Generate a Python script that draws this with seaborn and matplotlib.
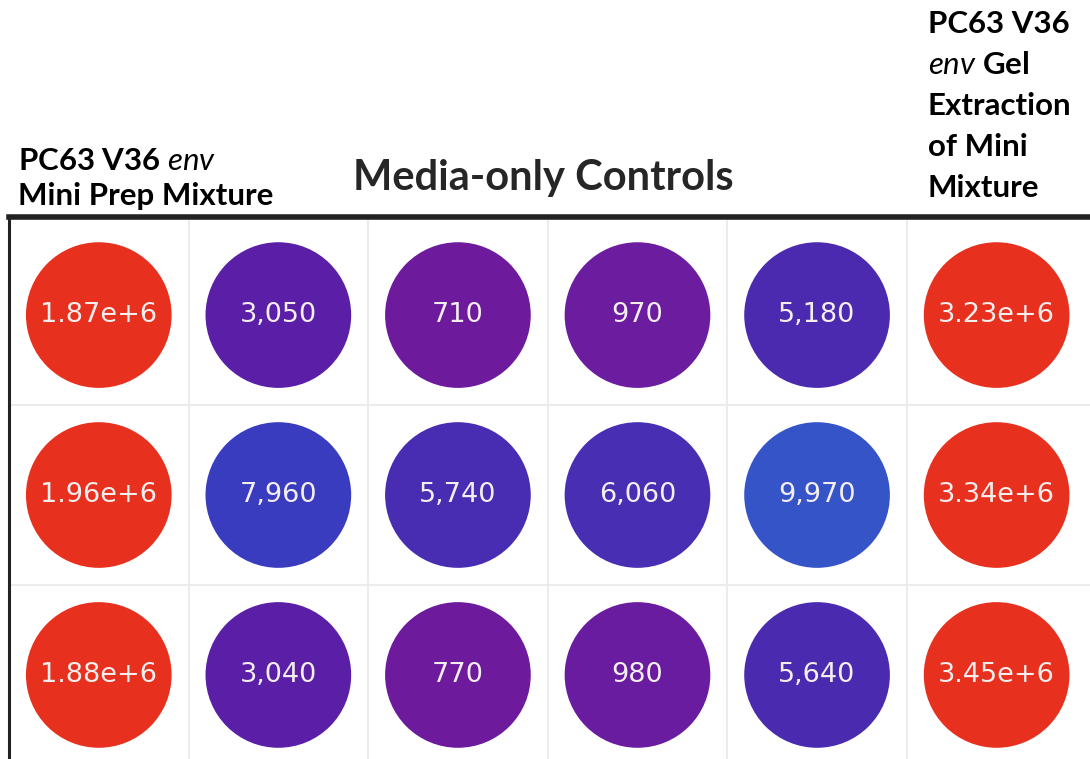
import numpy as np
import pandas as pd
import matplotlib
matplotlib.use("Agg")
import matplotlib.pyplot as plt
import seaborn as sns
from matplotlib.colors import LinearSegmentedColormap, LogNorm

# plate readout, 3 rows x 6 wells
row1 = [1.87e6, 3050, 710, 970, 5180, 3.23e6]
row2 = [1.96e6, 7960, 5740, 6060, 9970, 3.34e6]
row3 = [1.88e6, 3040, 770, 980, 5640, 3.45e6]
labels1 = ["1.87e+6", "3,050", "710", "970", "5,180", "3.23e+6"]
labels2 = ["1.96e+6", "7,960", "5,740", "6,060", "9,970", "3.34e+6"]
labels3 = ["1.88e+6", "3,040", "770", "980", "5,640", "3.45e+6"]

rows = []
for r, (vals, labs) in enumerate([(row1, labels1), (row2, labels2), (row3, labels3)]):
    for c, (v, l) in enumerate(zip(vals, labs)):
        rows.append({"col": c, "row": r, "value": v, "label": l})
df = pd.DataFrame(rows)

sns.set_style("white")
plt.rcParams["font.family"] = ["DejaVu Sans"]
plt.rcParams["mathtext.fontset"] = "custom"
plt.rcParams["mathtext.it"] = "Lato:italic"

# colour scale (log), purple -> blue -> red
vmin, vmax = 700, 3.5e6
anchors = [(700, "#6e1a9c"), (1000, "#6a1ca0"), (3000, "#5a1fa6"), (5500, "#4a2bb0"),
           (8000, "#3a3cbf"), (10000, "#3556c8"), (1.5e6, "#e8301e"), (3.5e6, "#e8301e")]
lo, hi = np.log10(vmin), np.log10(vmax)
cmap = LinearSegmentedColormap.from_list(
    "plate", [((np.log10(v) - lo) / (hi - lo), col) for v, col in anchors])

fig = plt.figure(figsize=(10.9, 7.59), dpi=100)
W, H = 1090, 759
ax = fig.add_axes([9 / W, 0, 1 - 9 / W, 1 - 217 / H])

sns.scatterplot(data=df, x="col", y="row", hue="value", palette=cmap,
                hue_norm=LogNorm(vmin, vmax), s=11000, linewidth=0,
                legend=False, ax=ax, zorder=3)

for _, d in df.iterrows():
    ax.text(d["col"], d["row"], d["label"], ha="center", va="center",
            fontsize=19.5, color="#f4eeee", zorder=4)

ax.set_xlim(-0.5, 5.52)
ax.set_ylim(2.467, -0.545)
for x in np.arange(0.5, 5.5, 1):
    ax.axvline(x, color="#ececec", lw=1.5, zorder=1)
for y in [0.5, 1.5]:
    ax.axhline(y, color="#ececec", lw=1.5, zorder=1)
ax.set_xticks([])
ax.set_yticks([])
ax.set_xlabel("")
ax.set_ylabel("")
for side in ["right", "bottom"]:
    ax.spines[side].set_visible(False)
ax.spines["left"].set_linewidth(2.2)
ax.spines["left"].set_color("#222222")
ax.spines["top"].set_linewidth(4)
ax.spines["top"].set_color("#222222")

hdr = dict(fontsize=22.5, fontweight="bold", family="Lato", color="black", va="baseline")
fig.text(18 / W, 1 - 170 / H, r"PC63 V36 $\mathit{env}$", **hdr)
fig.text(18 / W, 1 - 205 / H, "Mini Prep Mixture", **hdr)
fig.text(543 / W, 1 - 190 / H, "Media-only Controls", fontsize=30, fontweight="bold",
         family="Lato", ha="center", va="baseline")
right_lines = ["PC63 V36", r"$\mathit{env}$ Gel", "Extraction", "of Mini", "Mixture"]
for i, t in enumerate(right_lines):
    fig.text(928 / W, 1 - (33 + 41 * i) / H, t, **hdr)

fig.savefig("out.png", dpi=100)
